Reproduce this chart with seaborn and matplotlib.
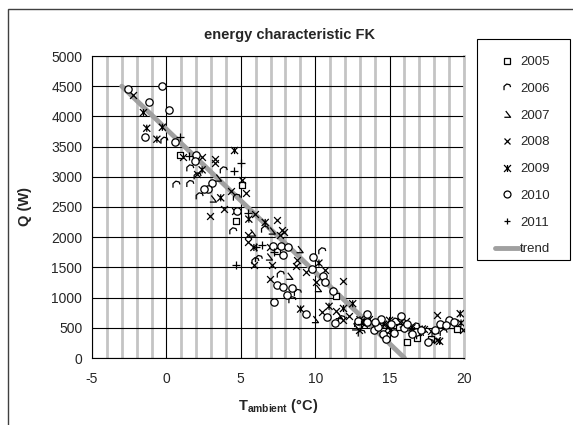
import numpy as np
import pandas as pd
import matplotlib
import matplotlib.pyplot as plt
from matplotlib.path import Path
from matplotlib.lines import Line2D
from matplotlib.patches import Rectangle
from matplotlib.ticker import MultipleLocator
import seaborn as sns

sns.set_theme(style="white")
plt.rcParams['font.family'] = ['Liberation Sans', 'DejaVu Sans']
plt.rcParams['mathtext.fontset'] = 'custom'
plt.rcParams['mathtext.rm'] = 'Liberation Sans'
plt.rcParams['mathtext.bf'] = 'Liberation Sans:bold'
plt.rcParams['axes.unicode_minus'] = False

# --- data (T ambient in °C, Q in W) ---
t_2005 = [0.93, 5.1, 4.68, 7.43, 11.42, 16.2, 16.86, 17.75, 19.14, 19.51, 13.43, 15.6]
q_2005 = [3357, 2867, 2266, 1764, 1031, 259, 331, 309, 540, 480, 590, 520]

t_2006 = [-0.12, 0.69, 1.62, 1.62, 2.11, 2.25, 3.87, 4.51, 4.75, 6.23, 6.64, 7.7,
          8.85, 8.48, 10.49, 13.14, 14.17, 14.85, 17.06, 17.75, 18.65, 12.9, 16.3, 6.0,
          15.4, 16.8, 18.1, 11.8]
q_2006 = [3595, 2867, 2878, 3137, 3005, 2674, 3104, 2095, 2652, 1637, 2122, 1378,
          1075, 954, 1764, 402, 551, 358, 358, 248, 413, 560, 470, 1600,
          600, 520, 390, 640]

t_2007 = [3.48, 3.14, 5.78, 7.1, 6.91, 8.28, 10.2, 10.0, 12.7, 14.8, 8.97, 11.6, 15.9]
q_2007 = [2977, 2630, 2067, 2100, 1670, 1351, 1147, 634, 513, 540, 1792, 700, 560]

t_2008 = [-2.25, 1.13, 2.38, 3.28, 3.24, 2.03, 5.1, 5.34, 4.31, 3.87, 2.92, 4.58,
          5.98, 7.4, 7.77, 7.89, 7.65, 5.49, 5.49, 6.94, 5.91, 7.11, 6.96, 8.77,
          8.72, 9.36, 10.05, 10.69, 11.84, 10.44, 11.37, 11.86, 12.96, 15.05,
          16.45, 17.3, 18.19, 18.19, 19.9, 14.3, 15.7, 16.9, 13.6, 12.3,
          14.9, 16.1, 17.8, 13.3]
q_2008 = [4355, 3335, 3330, 3302, 3225, 3049, 2950, 2729, 2773, 2464, 2354, 2426,
          2387, 2277, 2122, 2078, 2034, 2040, 1913, 1841, 1538, 1533, 1307, 1626,
          1516, 1417, 1257, 1461, 1279, 755, 772, 634, 469, 469,
          469, 485, 717, 303, 469, 560, 590, 430, 650, 700,
          520, 610, 450, 560]

t_2009 = [-1.54, -0.27, -1.32, -0.64, 2.4, 4.58, 3.65, 5.54, 6.64, 5.88, 10.25,
          9.02, 10.93, 12.52, 13.01, 15.0, 18.36, 19.75, 19.8, 13.3, 16.5, 11.9,
          14.6, 17.2]
q_2009 = [4063, 3820, 3804, 3622, 3115, 3435, 2652, 2299, 2244, 1830, 1571,
          810, 855, 899, 634, 623, 276, 733, 579, 600, 500, 820,
          560, 480]

t_2010 = [-2.55, -0.27, -1.18, 0.15, -1.45, 0.59, 1.96, 1.94, 3.06, 2.79, 4.75,
          7.16, 7.7, 7.82, 8.2, 9.85, 9.78, 10.54, 10.64, 7.4, 7.84, 8.43, 8.09,
          7.25, 9.41, 11.18, 10.8, 11.35, 13.46, 13.5, 13.95, 14.44, 14.19, 14.53,
          14.75, 15.3, 15.76, 15.96, 16.79, 17.55, 18.04, 18.4, 18.97, 18.82,
          2.5, 12.9, 16.2, 17.1, 15.1, 14.0, 16.5, 19.3]
q_2010 = [4450, 4510, 4234, 4107, 3655, 3578, 3363, 3258, 2905, 2806, 2431,
          1858, 1847, 1698, 1836, 1676, 1472, 1351, 1262, 1213, 1174, 1152, 1036,
          926, 728, 1114, 672, 579, 733, 590, 458, 645, 507, 397,
          314, 413, 700, 496, 424, 265, 469, 568, 623, 551,
          2800, 620, 560, 470, 560, 600, 390, 600]

t_2011 = [0.93, 1.5, 5.0, 4.56, 5.49, 6.42, 6.03, 4.68, 7.2, 13.1]
q_2011 = [3666, 3352, 3225, 3104, 2398, 1874, 1830, 1533, 1748, 560]

trend_t = [-3, 16]
trend_q = [4500, 0]


def open_path(verts, pairs=False):
    if pairs:
        codes = [Path.MOVETO, Path.LINETO] * (len(verts) // 2)
    else:
        codes = [Path.MOVETO] + [Path.LINETO] * (len(verts) - 1)
    return Path(verts, codes)


m_2006 = open_path([(-0.45, -0.35), (-0.45, 0.15), (-0.1, 0.45), (0.3, 0.35), (0.4, 0.05)])
m_2007 = open_path([(-0.25, 0.5), (0.45, -0.4), (-0.45, -0.4)])
m_2009 = open_path([(-0.5, -0.5), (0.5, 0.5), (-0.5, 0.5), (0.5, -0.5),
                    (0.0, 0.5), (0.0, -0.5)], pairs=True)

series = [
    ("2005", t_2005, q_2005, "s", "white", 20),
    ("2006", t_2006, q_2006, m_2006, "none", 28),
    ("2007", t_2007, q_2007, m_2007, "none", 28),
    ("2008", t_2008, q_2008, "x", None, 24),
    ("2009", t_2009, q_2009, m_2009, "none", 26),
    ("2010", t_2010, q_2010, "o", "white", 28),
    ("2011", t_2011, q_2011, "+", None, 30),
]

fig = plt.figure(figsize=(5.73, 4.25), dpi=100)
ax = fig.add_axes([92 / 573, 1 - 358 / 425, 372 / 573, 302 / 425])

# grid: light grey every 1 °C, black every 5 °C and every 500 W
ax.set_xlim(-5, 20)
ax.set_ylim(0, 5000)
ax.xaxis.set_major_locator(MultipleLocator(5))
ax.xaxis.set_minor_locator(MultipleLocator(1))
ax.yaxis.set_major_locator(MultipleLocator(500))
ax.grid(which='minor', axis='x', color='#c4c4c4', linewidth=2.0)
ax.grid(which='major', axis='x', color='black', linewidth=0.8)
ax.grid(which='major', axis='y', color='black', linewidth=0.8)
ax.set_axisbelow(True)
ax.tick_params(which='minor', length=0)
ax.tick_params(which='major', direction='out', length=4, width=0.8, color='black',
               labelsize=10, pad=3)
ax.tick_params(axis='x', pad=6)
for s in ['left', 'bottom', 'top']:
    ax.spines[s].set_color('black')
    ax.spines[s].set_linewidth(0.8)
ax.spines['right'].set_color('#c4c4c4')
ax.spines['right'].set_linewidth(2.0)

sns.lineplot(x=trend_t, y=trend_q, color='#a0a0a0', linewidth=3.5, ax=ax, zorder=2)

handles = []
for name, tx, qy, mk, fc, size in series:
    if fc is None:
        sns.scatterplot(x=tx, y=qy, marker=mk, s=size, color='black', linewidth=0.9,
                        ax=ax, zorder=3, legend=False)
        handles.append(Line2D([], [], linestyle='none', marker=mk, color='black',
                              markersize=5, markeredgewidth=0.9, label=name))
    else:
        sns.scatterplot(x=tx, y=qy, marker=mk, s=size, facecolor=fc, edgecolor='black',
                        linewidth=0.9, ax=ax, zorder=3, legend=False)
        handles.append(Line2D([], [], linestyle='none', marker=mk, markerfacecolor=fc,
                              markeredgecolor='black', markersize=5, markeredgewidth=0.9,
                              label=name))
handles.append(Line2D([], [], color='#a0a0a0', linewidth=3.5, label='trend'))

ax.set_xlabel(r'$\mathbf{T_{ambient}}$ (°C)', fontsize=10.5, fontweight='bold', labelpad=8)
ax.set_ylabel('Q (W)', fontsize=10.5, fontweight='bold', labelpad=14)
fig.text(290 / 573, 1 - 35 / 425, 'energy characteristic FK', ha='center', va='center',
         fontsize=10.5, fontweight='bold')

# legend entries without their own frame; box drawn separately
fig.legend(handles=handles, loc='upper left',
           bbox_to_anchor=(495 / 573, 1 - 56 / 425),
           frameon=False, fontsize=9.5,
           labelspacing=1.1, handlelength=1.8, handletextpad=0.1,
           borderpad=0, borderaxespad=0)
fig.patches.append(Rectangle((477 / 573, 1 - 260 / 425), 93 / 573, 221 / 425,
                             transform=fig.transFigure, fill=False,
                             edgecolor='black', linewidth=0.8))

fig.patches.append(Rectangle((8 / 573, -0.1), 1.2, 1.1 - 9 / 425, transform=fig.transFigure,
                             fill=False, edgecolor='#404040', linewidth=1.0))

fig.savefig('out.png', dpi=100)
